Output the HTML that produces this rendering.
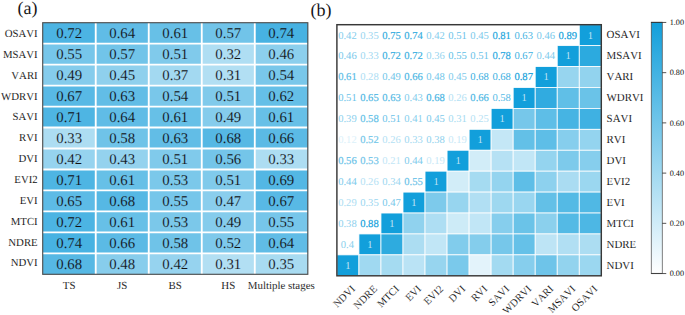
<!DOCTYPE html>
<html><head><meta charset="utf-8"><title>figure</title><style>html,body{margin:0;padding:0;background:#fff}svg{display:block;text-rendering:geometricPrecision}.l,.k{fill:#0a0a0a;stroke:#fff;stroke-width:.08px}.k{font-kerning:none}</style></head><body>
<svg width="685" height="315" viewBox="0 0 685 315" font-family="'Liberation Serif', serif">
<rect width="685" height="315" fill="#fff"/>
<rect x="42.70" y="22.70" width="53.32" height="21.27" fill="#4cb4e3"/>
<rect x="95.72" y="22.70" width="53.32" height="21.27" fill="#60bce6"/>
<rect x="148.74" y="22.70" width="53.32" height="21.27" fill="#67c0e7"/>
<rect x="201.76" y="22.70" width="53.32" height="21.27" fill="#71c4e9"/>
<rect x="254.78" y="22.70" width="53.32" height="21.27" fill="#47b2e2"/>
<rect x="42.70" y="43.67" width="53.32" height="21.27" fill="#76c6ea"/>
<rect x="95.72" y="43.67" width="53.32" height="21.27" fill="#71c4e9"/>
<rect x="148.74" y="43.67" width="53.32" height="21.27" fill="#80caeb"/>
<rect x="201.76" y="43.67" width="53.32" height="21.27" fill="#afdef3"/>
<rect x="254.78" y="43.67" width="53.32" height="21.27" fill="#8ccfed"/>
<rect x="42.70" y="64.63" width="53.32" height="21.27" fill="#85ccec"/>
<rect x="95.72" y="64.63" width="53.32" height="21.27" fill="#8fd0ed"/>
<rect x="148.74" y="64.63" width="53.32" height="21.27" fill="#a3d9f1"/>
<rect x="201.76" y="64.63" width="53.32" height="21.27" fill="#b2dff3"/>
<rect x="254.78" y="64.63" width="53.32" height="21.27" fill="#79c7ea"/>
<rect x="42.70" y="85.60" width="53.32" height="21.27" fill="#58b9e5"/>
<rect x="95.72" y="85.60" width="53.32" height="21.27" fill="#62bde6"/>
<rect x="148.74" y="85.60" width="53.32" height="21.27" fill="#79c7ea"/>
<rect x="201.76" y="85.60" width="53.32" height="21.27" fill="#80caeb"/>
<rect x="254.78" y="85.60" width="53.32" height="21.27" fill="#65bfe7"/>
<rect x="42.70" y="106.57" width="53.32" height="21.27" fill="#4eb5e3"/>
<rect x="95.72" y="106.57" width="53.32" height="21.27" fill="#60bce6"/>
<rect x="148.74" y="106.57" width="53.32" height="21.27" fill="#67c0e7"/>
<rect x="201.76" y="106.57" width="53.32" height="21.27" fill="#85ccec"/>
<rect x="254.78" y="106.57" width="53.32" height="21.27" fill="#67c0e7"/>
<rect x="42.70" y="127.53" width="53.32" height="21.27" fill="#adddf2"/>
<rect x="95.72" y="127.53" width="53.32" height="21.27" fill="#6fc3e8"/>
<rect x="148.74" y="127.53" width="53.32" height="21.27" fill="#62bde6"/>
<rect x="201.76" y="127.53" width="53.32" height="21.27" fill="#56b8e4"/>
<rect x="254.78" y="127.53" width="53.32" height="21.27" fill="#5bbae5"/>
<rect x="42.70" y="148.50" width="53.32" height="21.27" fill="#96d3ef"/>
<rect x="95.72" y="148.50" width="53.32" height="21.27" fill="#94d2ee"/>
<rect x="148.74" y="148.50" width="53.32" height="21.27" fill="#80caeb"/>
<rect x="201.76" y="148.50" width="53.32" height="21.27" fill="#74c5e9"/>
<rect x="254.78" y="148.50" width="53.32" height="21.27" fill="#adddf2"/>
<rect x="42.70" y="169.47" width="53.32" height="21.27" fill="#4eb5e3"/>
<rect x="95.72" y="169.47" width="53.32" height="21.27" fill="#67c0e7"/>
<rect x="148.74" y="169.47" width="53.32" height="21.27" fill="#7bc8ea"/>
<rect x="201.76" y="169.47" width="53.32" height="21.27" fill="#80caeb"/>
<rect x="254.78" y="169.47" width="53.32" height="21.27" fill="#53b7e4"/>
<rect x="42.70" y="190.43" width="53.32" height="21.27" fill="#5dbbe6"/>
<rect x="95.72" y="190.43" width="53.32" height="21.27" fill="#56b8e4"/>
<rect x="148.74" y="190.43" width="53.32" height="21.27" fill="#76c6ea"/>
<rect x="201.76" y="190.43" width="53.32" height="21.27" fill="#8aceed"/>
<rect x="254.78" y="190.43" width="53.32" height="21.27" fill="#58b9e5"/>
<rect x="42.70" y="211.40" width="53.32" height="21.27" fill="#4cb4e3"/>
<rect x="95.72" y="211.40" width="53.32" height="21.27" fill="#67c0e7"/>
<rect x="148.74" y="211.40" width="53.32" height="21.27" fill="#7bc8ea"/>
<rect x="201.76" y="211.40" width="53.32" height="21.27" fill="#85ccec"/>
<rect x="254.78" y="211.40" width="53.32" height="21.27" fill="#76c6ea"/>
<rect x="42.70" y="232.37" width="53.32" height="21.27" fill="#47b2e2"/>
<rect x="95.72" y="232.37" width="53.32" height="21.27" fill="#5bbae5"/>
<rect x="148.74" y="232.37" width="53.32" height="21.27" fill="#6fc3e8"/>
<rect x="201.76" y="232.37" width="53.32" height="21.27" fill="#7ec9eb"/>
<rect x="254.78" y="232.37" width="53.32" height="21.27" fill="#60bce6"/>
<rect x="42.70" y="253.33" width="53.32" height="21.27" fill="#56b8e4"/>
<rect x="95.72" y="253.33" width="53.32" height="21.27" fill="#87cdec"/>
<rect x="148.74" y="253.33" width="53.32" height="21.27" fill="#96d3ef"/>
<rect x="201.76" y="253.33" width="53.32" height="21.27" fill="#b2dff3"/>
<rect x="254.78" y="253.33" width="53.32" height="21.27" fill="#a8dbf1"/>
<line x1="95.72" y1="22.7" x2="95.72" y2="274.3" stroke="#fff" stroke-width="1.85"/>
<line x1="148.74" y1="22.7" x2="148.74" y2="274.3" stroke="#fff" stroke-width="1.85"/>
<line x1="201.76" y1="22.7" x2="201.76" y2="274.3" stroke="#fff" stroke-width="1.85"/>
<line x1="254.78" y1="22.7" x2="254.78" y2="274.3" stroke="#fff" stroke-width="1.85"/>
<line x1="42.7" y1="43.67" x2="307.8" y2="43.67" stroke="#fff" stroke-width="1.85"/>
<line x1="42.7" y1="64.63" x2="307.8" y2="64.63" stroke="#fff" stroke-width="1.85"/>
<line x1="42.7" y1="85.60" x2="307.8" y2="85.60" stroke="#fff" stroke-width="1.85"/>
<line x1="42.7" y1="106.57" x2="307.8" y2="106.57" stroke="#fff" stroke-width="1.85"/>
<line x1="42.7" y1="127.53" x2="307.8" y2="127.53" stroke="#fff" stroke-width="1.85"/>
<line x1="42.7" y1="148.50" x2="307.8" y2="148.50" stroke="#fff" stroke-width="1.85"/>
<line x1="42.7" y1="169.47" x2="307.8" y2="169.47" stroke="#fff" stroke-width="1.85"/>
<line x1="42.7" y1="190.43" x2="307.8" y2="190.43" stroke="#fff" stroke-width="1.85"/>
<line x1="42.7" y1="211.40" x2="307.8" y2="211.40" stroke="#fff" stroke-width="1.85"/>
<line x1="42.7" y1="232.37" x2="307.8" y2="232.37" stroke="#fff" stroke-width="1.85"/>
<line x1="42.7" y1="253.33" x2="307.8" y2="253.33" stroke="#fff" stroke-width="1.85"/>
<rect x="42.7" y="22.7" width="265.10" height="251.60" fill="none" stroke="#505050" stroke-width="1.15"/>
<text x="37.70" y="37.00" font-size="10.8" text-anchor="end" class="k">OSAVI</text>
<text x="69.21" y="38.08" font-size="14.8" text-anchor="middle" fill="#111" stroke="#4cb4e3" stroke-width="0.12">0.72</text>
<text x="122.23" y="38.08" font-size="14.8" text-anchor="middle" fill="#111" stroke="#60bce6" stroke-width="0.12">0.64</text>
<text x="175.25" y="38.08" font-size="14.8" text-anchor="middle" fill="#111" stroke="#67c0e7" stroke-width="0.12">0.61</text>
<text x="228.27" y="38.08" font-size="14.8" text-anchor="middle" fill="#111" stroke="#71c4e9" stroke-width="0.12">0.57</text>
<text x="281.29" y="38.08" font-size="14.8" text-anchor="middle" fill="#111" stroke="#47b2e2" stroke-width="0.12">0.74</text>
<text x="37.70" y="57.85" font-size="10.8" text-anchor="end" class="k">MSAVI</text>
<text x="69.21" y="59.05" font-size="14.8" text-anchor="middle" fill="#111" stroke="#76c6ea" stroke-width="0.12">0.55</text>
<text x="122.23" y="59.05" font-size="14.8" text-anchor="middle" fill="#111" stroke="#71c4e9" stroke-width="0.12">0.57</text>
<text x="175.25" y="59.05" font-size="14.8" text-anchor="middle" fill="#111" stroke="#80caeb" stroke-width="0.12">0.51</text>
<text x="228.27" y="59.05" font-size="14.8" text-anchor="middle" fill="#111" stroke="#afdef3" stroke-width="0.12">0.32</text>
<text x="281.29" y="59.05" font-size="14.8" text-anchor="middle" fill="#111" stroke="#8ccfed" stroke-width="0.12">0.46</text>
<text x="37.70" y="78.70" font-size="10.8" text-anchor="end" class="k">VARI</text>
<text x="69.21" y="80.02" font-size="14.8" text-anchor="middle" fill="#111" stroke="#85ccec" stroke-width="0.12">0.49</text>
<text x="122.23" y="80.02" font-size="14.8" text-anchor="middle" fill="#111" stroke="#8fd0ed" stroke-width="0.12">0.45</text>
<text x="175.25" y="80.02" font-size="14.8" text-anchor="middle" fill="#111" stroke="#a3d9f1" stroke-width="0.12">0.37</text>
<text x="228.27" y="80.02" font-size="14.8" text-anchor="middle" fill="#111" stroke="#b2dff3" stroke-width="0.12">0.31</text>
<text x="281.29" y="80.02" font-size="14.8" text-anchor="middle" fill="#111" stroke="#79c7ea" stroke-width="0.12">0.54</text>
<text x="37.70" y="99.55" font-size="10.8" text-anchor="end" class="k">WDRVI</text>
<text x="69.21" y="100.98" font-size="14.8" text-anchor="middle" fill="#111" stroke="#58b9e5" stroke-width="0.12">0.67</text>
<text x="122.23" y="100.98" font-size="14.8" text-anchor="middle" fill="#111" stroke="#62bde6" stroke-width="0.12">0.63</text>
<text x="175.25" y="100.98" font-size="14.8" text-anchor="middle" fill="#111" stroke="#79c7ea" stroke-width="0.12">0.54</text>
<text x="228.27" y="100.98" font-size="14.8" text-anchor="middle" fill="#111" stroke="#80caeb" stroke-width="0.12">0.51</text>
<text x="281.29" y="100.98" font-size="14.8" text-anchor="middle" fill="#111" stroke="#65bfe7" stroke-width="0.12">0.62</text>
<text x="37.70" y="120.40" font-size="10.8" text-anchor="end" class="k">SAVI</text>
<text x="69.21" y="121.95" font-size="14.8" text-anchor="middle" fill="#111" stroke="#4eb5e3" stroke-width="0.12">0.71</text>
<text x="122.23" y="121.95" font-size="14.8" text-anchor="middle" fill="#111" stroke="#60bce6" stroke-width="0.12">0.64</text>
<text x="175.25" y="121.95" font-size="14.8" text-anchor="middle" fill="#111" stroke="#67c0e7" stroke-width="0.12">0.61</text>
<text x="228.27" y="121.95" font-size="14.8" text-anchor="middle" fill="#111" stroke="#85ccec" stroke-width="0.12">0.49</text>
<text x="281.29" y="121.95" font-size="14.8" text-anchor="middle" fill="#111" stroke="#67c0e7" stroke-width="0.12">0.61</text>
<text x="37.70" y="141.25" font-size="10.8" text-anchor="end" class="k">RVI</text>
<text x="69.21" y="142.92" font-size="14.8" text-anchor="middle" fill="#111" stroke="#adddf2" stroke-width="0.12">0.33</text>
<text x="122.23" y="142.92" font-size="14.8" text-anchor="middle" fill="#111" stroke="#6fc3e8" stroke-width="0.12">0.58</text>
<text x="175.25" y="142.92" font-size="14.8" text-anchor="middle" fill="#111" stroke="#62bde6" stroke-width="0.12">0.63</text>
<text x="228.27" y="142.92" font-size="14.8" text-anchor="middle" fill="#111" stroke="#56b8e4" stroke-width="0.12">0.68</text>
<text x="281.29" y="142.92" font-size="14.8" text-anchor="middle" fill="#111" stroke="#5bbae5" stroke-width="0.12">0.66</text>
<text x="37.70" y="162.10" font-size="10.8" text-anchor="end" class="k">DVI</text>
<text x="69.21" y="163.88" font-size="14.8" text-anchor="middle" fill="#111" stroke="#96d3ef" stroke-width="0.12">0.42</text>
<text x="122.23" y="163.88" font-size="14.8" text-anchor="middle" fill="#111" stroke="#94d2ee" stroke-width="0.12">0.43</text>
<text x="175.25" y="163.88" font-size="14.8" text-anchor="middle" fill="#111" stroke="#80caeb" stroke-width="0.12">0.51</text>
<text x="228.27" y="163.88" font-size="14.8" text-anchor="middle" fill="#111" stroke="#74c5e9" stroke-width="0.12">0.56</text>
<text x="281.29" y="163.88" font-size="14.8" text-anchor="middle" fill="#111" stroke="#adddf2" stroke-width="0.12">0.33</text>
<text x="37.70" y="182.95" font-size="10.8" text-anchor="end" class="k">EVI2</text>
<text x="69.21" y="184.85" font-size="14.8" text-anchor="middle" fill="#111" stroke="#4eb5e3" stroke-width="0.12">0.71</text>
<text x="122.23" y="184.85" font-size="14.8" text-anchor="middle" fill="#111" stroke="#67c0e7" stroke-width="0.12">0.61</text>
<text x="175.25" y="184.85" font-size="14.8" text-anchor="middle" fill="#111" stroke="#7bc8ea" stroke-width="0.12">0.53</text>
<text x="228.27" y="184.85" font-size="14.8" text-anchor="middle" fill="#111" stroke="#80caeb" stroke-width="0.12">0.51</text>
<text x="281.29" y="184.85" font-size="14.8" text-anchor="middle" fill="#111" stroke="#53b7e4" stroke-width="0.12">0.69</text>
<text x="37.70" y="203.80" font-size="10.8" text-anchor="end" class="k">EVI</text>
<text x="69.21" y="205.82" font-size="14.8" text-anchor="middle" fill="#111" stroke="#5dbbe6" stroke-width="0.12">0.65</text>
<text x="122.23" y="205.82" font-size="14.8" text-anchor="middle" fill="#111" stroke="#56b8e4" stroke-width="0.12">0.68</text>
<text x="175.25" y="205.82" font-size="14.8" text-anchor="middle" fill="#111" stroke="#76c6ea" stroke-width="0.12">0.55</text>
<text x="228.27" y="205.82" font-size="14.8" text-anchor="middle" fill="#111" stroke="#8aceed" stroke-width="0.12">0.47</text>
<text x="281.29" y="205.82" font-size="14.8" text-anchor="middle" fill="#111" stroke="#58b9e5" stroke-width="0.12">0.67</text>
<text x="37.70" y="224.65" font-size="10.8" text-anchor="end" class="k">MTCI</text>
<text x="69.21" y="226.78" font-size="14.8" text-anchor="middle" fill="#111" stroke="#4cb4e3" stroke-width="0.12">0.72</text>
<text x="122.23" y="226.78" font-size="14.8" text-anchor="middle" fill="#111" stroke="#67c0e7" stroke-width="0.12">0.61</text>
<text x="175.25" y="226.78" font-size="14.8" text-anchor="middle" fill="#111" stroke="#7bc8ea" stroke-width="0.12">0.53</text>
<text x="228.27" y="226.78" font-size="14.8" text-anchor="middle" fill="#111" stroke="#85ccec" stroke-width="0.12">0.49</text>
<text x="281.29" y="226.78" font-size="14.8" text-anchor="middle" fill="#111" stroke="#76c6ea" stroke-width="0.12">0.55</text>
<text x="37.70" y="245.50" font-size="10.8" text-anchor="end" class="k">NDRE</text>
<text x="69.21" y="247.75" font-size="14.8" text-anchor="middle" fill="#111" stroke="#47b2e2" stroke-width="0.12">0.74</text>
<text x="122.23" y="247.75" font-size="14.8" text-anchor="middle" fill="#111" stroke="#5bbae5" stroke-width="0.12">0.66</text>
<text x="175.25" y="247.75" font-size="14.8" text-anchor="middle" fill="#111" stroke="#6fc3e8" stroke-width="0.12">0.58</text>
<text x="228.27" y="247.75" font-size="14.8" text-anchor="middle" fill="#111" stroke="#7ec9eb" stroke-width="0.12">0.52</text>
<text x="281.29" y="247.75" font-size="14.8" text-anchor="middle" fill="#111" stroke="#60bce6" stroke-width="0.12">0.64</text>
<text x="37.70" y="266.35" font-size="10.8" text-anchor="end" class="k">NDVI</text>
<text x="69.21" y="268.72" font-size="14.8" text-anchor="middle" fill="#111" stroke="#56b8e4" stroke-width="0.12">0.68</text>
<text x="122.23" y="268.72" font-size="14.8" text-anchor="middle" fill="#111" stroke="#87cdec" stroke-width="0.12">0.48</text>
<text x="175.25" y="268.72" font-size="14.8" text-anchor="middle" fill="#111" stroke="#96d3ef" stroke-width="0.12">0.42</text>
<text x="228.27" y="268.72" font-size="14.8" text-anchor="middle" fill="#111" stroke="#b2dff3" stroke-width="0.12">0.31</text>
<text x="281.29" y="268.72" font-size="14.8" text-anchor="middle" fill="#111" stroke="#a8dbf1" stroke-width="0.12">0.35</text>
<text x="69.21" y="289.4" font-size="10.9" text-anchor="middle" class="l">TS</text>
<text x="122.23" y="289.4" font-size="10.9" text-anchor="middle" class="l">JS</text>
<text x="175.25" y="289.4" font-size="10.9" text-anchor="middle" class="l">BS</text>
<text x="228.27" y="289.4" font-size="10.9" text-anchor="middle" class="l">HS</text>
<text x="281.29" y="289.4" font-size="10.9" text-anchor="middle" class="l">Multiple stages</text>
<text x="17.6" y="13.8" font-size="18" class="l">(a)</text>
<text x="310.5" y="15.7" font-size="18" class="l">(b)</text>
<text x="347.42" y="38.56" font-size="10.6" text-anchor="middle" fill="#86ceed">0.42</text>
<text x="369.45" y="38.56" font-size="10.6" text-anchor="middle" fill="#9ad6f0">0.35</text>
<text x="391.48" y="38.56" font-size="10.6" text-anchor="middle" fill="#33ace0" stroke="#33ace0" stroke-width="0.16">0.75</text>
<text x="413.52" y="38.56" font-size="10.6" text-anchor="middle" fill="#35ade0" stroke="#35ade0" stroke-width="0.16">0.74</text>
<text x="435.55" y="38.56" font-size="10.6" text-anchor="middle" fill="#86ceed">0.42</text>
<text x="457.58" y="38.56" font-size="10.6" text-anchor="middle" fill="#6cc3e9">0.51</text>
<text x="479.62" y="38.56" font-size="10.6" text-anchor="middle" fill="#7dcaeb">0.45</text>
<text x="501.65" y="38.56" font-size="10.6" text-anchor="middle" fill="#22a6dd" stroke="#22a6dd" stroke-width="0.16">0.81</text>
<text x="523.68" y="38.56" font-size="10.6" text-anchor="middle" fill="#49b5e3">0.63</text>
<text x="545.72" y="38.56" font-size="10.6" text-anchor="middle" fill="#7ac9eb">0.46</text>
<text x="567.75" y="38.56" font-size="10.6" text-anchor="middle" fill="#129fdb" stroke="#129fdb" stroke-width="0.16">0.89</text>
<rect x="579.27" y="24.70" width="22.03" height="20.93" fill="#129fdb" stroke="#fff" stroke-width="0.8"/>
<text x="590.28" y="38.56" font-size="10.6" text-anchor="middle" fill="#fff" fill-opacity="0.72">1</text>
<text x="347.42" y="59.49" font-size="10.6" text-anchor="middle" fill="#7ac9eb">0.46</text>
<text x="369.45" y="59.49" font-size="10.6" text-anchor="middle" fill="#a0d8f1">0.33</text>
<text x="391.48" y="59.49" font-size="10.6" text-anchor="middle" fill="#3bb0e1" stroke="#3bb0e1" stroke-width="0.16">0.72</text>
<text x="413.52" y="59.49" font-size="10.6" text-anchor="middle" fill="#3bb0e1" stroke="#3bb0e1" stroke-width="0.16">0.72</text>
<text x="435.55" y="59.49" font-size="10.6" text-anchor="middle" fill="#97d5ef">0.36</text>
<text x="457.58" y="59.49" font-size="10.6" text-anchor="middle" fill="#60bfe7">0.55</text>
<text x="479.62" y="59.49" font-size="10.6" text-anchor="middle" fill="#6cc3e9">0.51</text>
<text x="501.65" y="59.49" font-size="10.6" text-anchor="middle" fill="#2aa9df" stroke="#2aa9df" stroke-width="0.16">0.78</text>
<text x="523.68" y="59.49" font-size="10.6" text-anchor="middle" fill="#3db1e2">0.67</text>
<text x="545.72" y="59.49" font-size="10.6" text-anchor="middle" fill="#80cbec">0.44</text>
<rect x="557.23" y="45.62" width="22.03" height="20.93" fill="#129fdb" stroke="#fff" stroke-width="0.8"/>
<text x="568.25" y="59.49" font-size="10.6" text-anchor="middle" fill="#fff" fill-opacity="0.72">1</text>
<rect x="579.27" y="45.62" width="22.03" height="20.93" fill="#2caadf" stroke="#fff" stroke-width="0.8"/>
<text x="347.42" y="80.41" font-size="10.6" text-anchor="middle" fill="#59bce6" stroke="#59bce6" stroke-width="0.16">0.61</text>
<text x="369.45" y="80.41" font-size="10.6" text-anchor="middle" fill="#aedef3">0.28</text>
<text x="391.48" y="80.41" font-size="10.6" text-anchor="middle" fill="#71c6e9">0.49</text>
<text x="413.52" y="80.41" font-size="10.6" text-anchor="middle" fill="#4bb6e4" stroke="#4bb6e4" stroke-width="0.16">0.66</text>
<text x="435.55" y="80.41" font-size="10.6" text-anchor="middle" fill="#74c7ea">0.48</text>
<text x="457.58" y="80.41" font-size="10.6" text-anchor="middle" fill="#7dcaeb">0.45</text>
<text x="479.62" y="80.41" font-size="10.6" text-anchor="middle" fill="#3aafe1">0.68</text>
<text x="501.65" y="80.41" font-size="10.6" text-anchor="middle" fill="#3aafe1">0.68</text>
<text x="523.68" y="80.41" font-size="10.6" text-anchor="middle" fill="#129fdb" stroke="#129fdb" stroke-width="0.16">0.87</text>
<rect x="535.20" y="66.55" width="22.03" height="20.93" fill="#129fdb" stroke="#fff" stroke-width="0.8"/>
<text x="546.22" y="80.41" font-size="10.6" text-anchor="middle" fill="#fff" fill-opacity="0.72">1</text>
<rect x="557.23" y="66.55" width="22.03" height="20.93" fill="#97d5ef" stroke="#fff" stroke-width="0.8"/>
<rect x="579.27" y="66.55" width="22.03" height="20.93" fill="#92d3ee" stroke="#fff" stroke-width="0.8"/>
<text x="347.42" y="101.34" font-size="10.6" text-anchor="middle" fill="#6cc3e9">0.51</text>
<text x="369.45" y="101.34" font-size="10.6" text-anchor="middle" fill="#4eb7e4" stroke="#4eb7e4" stroke-width="0.16">0.65</text>
<text x="391.48" y="101.34" font-size="10.6" text-anchor="middle" fill="#53b9e5" stroke="#53b9e5" stroke-width="0.16">0.63</text>
<text x="413.52" y="101.34" font-size="10.6" text-anchor="middle" fill="#83cdec">0.43</text>
<text x="435.55" y="101.34" font-size="10.6" text-anchor="middle" fill="#46b4e3" stroke="#46b4e3" stroke-width="0.16">0.68</text>
<text x="457.58" y="101.34" font-size="10.6" text-anchor="middle" fill="#b4e1f4">0.26</text>
<text x="479.62" y="101.34" font-size="10.6" text-anchor="middle" fill="#4bb6e4" stroke="#4bb6e4" stroke-width="0.16">0.66</text>
<text x="501.65" y="101.34" font-size="10.6" text-anchor="middle" fill="#57bbe6">0.58</text>
<rect x="513.17" y="87.48" width="22.03" height="20.93" fill="#129fdb" stroke="#fff" stroke-width="0.8"/>
<text x="524.18" y="101.34" font-size="10.6" text-anchor="middle" fill="#fff" fill-opacity="0.72">1</text>
<rect x="535.20" y="87.48" width="22.03" height="20.93" fill="#31abe0" stroke="#fff" stroke-width="0.8"/>
<rect x="557.23" y="87.48" width="22.03" height="20.93" fill="#60bfe7" stroke="#fff" stroke-width="0.8"/>
<rect x="579.27" y="87.48" width="22.03" height="20.93" fill="#6ac3e8" stroke="#fff" stroke-width="0.8"/>
<text x="347.42" y="122.26" font-size="10.6" text-anchor="middle" fill="#8ed1ee">0.39</text>
<text x="369.45" y="122.26" font-size="10.6" text-anchor="middle" fill="#61bfe7" stroke="#61bfe7" stroke-width="0.16">0.58</text>
<text x="391.48" y="122.26" font-size="10.6" text-anchor="middle" fill="#6cc3e9">0.51</text>
<text x="413.52" y="122.26" font-size="10.6" text-anchor="middle" fill="#88cfed">0.41</text>
<text x="435.55" y="122.26" font-size="10.6" text-anchor="middle" fill="#7dcaeb">0.45</text>
<text x="457.58" y="122.26" font-size="10.6" text-anchor="middle" fill="#a5dbf1">0.31</text>
<text x="479.62" y="122.26" font-size="10.6" text-anchor="middle" fill="#b7e2f4">0.25</text>
<rect x="491.13" y="108.40" width="22.03" height="20.93" fill="#129fdb" stroke="#fff" stroke-width="0.8"/>
<text x="502.15" y="122.26" font-size="10.6" text-anchor="middle" fill="#fff" fill-opacity="0.72">1</text>
<rect x="513.17" y="108.40" width="22.03" height="20.93" fill="#76c7ea" stroke="#fff" stroke-width="0.8"/>
<rect x="535.20" y="108.40" width="22.03" height="20.93" fill="#5ebee7" stroke="#fff" stroke-width="0.8"/>
<rect x="557.23" y="108.40" width="22.03" height="20.93" fill="#46b4e3" stroke="#fff" stroke-width="0.8"/>
<rect x="579.27" y="108.40" width="22.03" height="20.93" fill="#3fb1e2" stroke="#fff" stroke-width="0.8"/>
<text x="347.42" y="143.19" font-size="10.6" text-anchor="middle" fill="#dcf1fa">0.12</text>
<text x="369.45" y="143.19" font-size="10.6" text-anchor="middle" fill="#71c6e9" stroke="#71c6e9" stroke-width="0.16">0.52</text>
<text x="391.48" y="143.19" font-size="10.6" text-anchor="middle" fill="#b4e1f4">0.26</text>
<text x="413.52" y="143.19" font-size="10.6" text-anchor="middle" fill="#a0d8f1">0.33</text>
<text x="435.55" y="143.19" font-size="10.6" text-anchor="middle" fill="#91d2ee">0.38</text>
<text x="457.58" y="143.19" font-size="10.6" text-anchor="middle" fill="#c8e9f7">0.19</text>
<rect x="469.10" y="129.32" width="22.03" height="20.93" fill="#129fdb" stroke="#fff" stroke-width="0.8"/>
<text x="480.12" y="143.19" font-size="10.6" text-anchor="middle" fill="#fff" fill-opacity="0.72">1</text>
<rect x="491.13" y="129.32" width="22.03" height="20.93" fill="#c4e7f6" stroke="#fff" stroke-width="0.8"/>
<rect x="513.17" y="129.32" width="22.03" height="20.93" fill="#63c0e7" stroke="#fff" stroke-width="0.8"/>
<rect x="535.20" y="129.32" width="22.03" height="20.93" fill="#5ebee7" stroke="#fff" stroke-width="0.8"/>
<rect x="557.23" y="129.32" width="22.03" height="20.93" fill="#86ceed" stroke="#fff" stroke-width="0.8"/>
<rect x="579.27" y="129.32" width="22.03" height="20.93" fill="#94d4ef" stroke="#fff" stroke-width="0.8"/>
<text x="347.42" y="164.11" font-size="10.6" text-anchor="middle" fill="#66c1e8" stroke="#66c1e8" stroke-width="0.16">0.56</text>
<text x="369.45" y="164.11" font-size="10.6" text-anchor="middle" fill="#6fc4e9" stroke="#6fc4e9" stroke-width="0.16">0.53</text>
<text x="391.48" y="164.11" font-size="10.6" text-anchor="middle" fill="#c2e6f6">0.21</text>
<text x="413.52" y="164.11" font-size="10.6" text-anchor="middle" fill="#80cbec">0.44</text>
<text x="435.55" y="164.11" font-size="10.6" text-anchor="middle" fill="#c8e9f7">0.19</text>
<rect x="447.07" y="150.25" width="22.03" height="20.93" fill="#129fdb" stroke="#fff" stroke-width="0.8"/>
<text x="458.08" y="164.11" font-size="10.6" text-anchor="middle" fill="#fff" fill-opacity="0.72">1</text>
<rect x="469.10" y="150.25" width="22.03" height="20.93" fill="#d2edf8" stroke="#fff" stroke-width="0.8"/>
<rect x="491.13" y="150.25" width="22.03" height="20.93" fill="#b6e1f4" stroke="#fff" stroke-width="0.8"/>
<rect x="513.17" y="150.25" width="22.03" height="20.93" fill="#c1e6f6" stroke="#fff" stroke-width="0.8"/>
<rect x="535.20" y="150.25" width="22.03" height="20.93" fill="#94d4ef" stroke="#fff" stroke-width="0.8"/>
<rect x="557.23" y="150.25" width="22.03" height="20.93" fill="#7dcaeb" stroke="#fff" stroke-width="0.8"/>
<rect x="579.27" y="150.25" width="22.03" height="20.93" fill="#86ceed" stroke="#fff" stroke-width="0.8"/>
<text x="347.42" y="185.04" font-size="10.6" text-anchor="middle" fill="#80cbec">0.44</text>
<text x="369.45" y="185.04" font-size="10.6" text-anchor="middle" fill="#b4e1f4">0.26</text>
<text x="391.48" y="185.04" font-size="10.6" text-anchor="middle" fill="#9dd7f0">0.34</text>
<text x="413.52" y="185.04" font-size="10.6" text-anchor="middle" fill="#69c2e8" stroke="#69c2e8" stroke-width="0.16">0.55</text>
<rect x="425.03" y="171.17" width="22.03" height="20.93" fill="#129fdb" stroke="#fff" stroke-width="0.8"/>
<text x="436.05" y="185.04" font-size="10.6" text-anchor="middle" fill="#fff" fill-opacity="0.72">1</text>
<rect x="447.07" y="171.17" width="22.03" height="20.93" fill="#d2edf8" stroke="#fff" stroke-width="0.8"/>
<rect x="469.10" y="171.17" width="22.03" height="20.93" fill="#a5dbf1" stroke="#fff" stroke-width="0.8"/>
<rect x="491.13" y="171.17" width="22.03" height="20.93" fill="#94d4ef" stroke="#fff" stroke-width="0.8"/>
<rect x="513.17" y="171.17" width="22.03" height="20.93" fill="#5ebee7" stroke="#fff" stroke-width="0.8"/>
<rect x="535.20" y="171.17" width="22.03" height="20.93" fill="#8dd1ee" stroke="#fff" stroke-width="0.8"/>
<rect x="557.23" y="171.17" width="22.03" height="20.93" fill="#aadcf2" stroke="#fff" stroke-width="0.8"/>
<rect x="579.27" y="171.17" width="22.03" height="20.93" fill="#9bd7f0" stroke="#fff" stroke-width="0.8"/>
<text x="347.42" y="205.96" font-size="10.6" text-anchor="middle" fill="#abddf2">0.29</text>
<text x="369.45" y="205.96" font-size="10.6" text-anchor="middle" fill="#9ad6f0">0.35</text>
<text x="391.48" y="205.96" font-size="10.6" text-anchor="middle" fill="#77c8ea">0.47</text>
<rect x="403.00" y="192.10" width="22.03" height="20.93" fill="#129fdb" stroke="#fff" stroke-width="0.8"/>
<text x="414.02" y="205.96" font-size="10.6" text-anchor="middle" fill="#fff" fill-opacity="0.72">1</text>
<rect x="425.03" y="192.10" width="22.03" height="20.93" fill="#7dcaeb" stroke="#fff" stroke-width="0.8"/>
<rect x="447.07" y="192.10" width="22.03" height="20.93" fill="#97d5ef" stroke="#fff" stroke-width="0.8"/>
<rect x="469.10" y="192.10" width="22.03" height="20.93" fill="#b1dff3" stroke="#fff" stroke-width="0.8"/>
<rect x="491.13" y="192.10" width="22.03" height="20.93" fill="#9ed8f0" stroke="#fff" stroke-width="0.8"/>
<rect x="513.17" y="192.10" width="22.03" height="20.93" fill="#99d6f0" stroke="#fff" stroke-width="0.8"/>
<rect x="535.20" y="192.10" width="22.03" height="20.93" fill="#63c0e7" stroke="#fff" stroke-width="0.8"/>
<rect x="557.23" y="192.10" width="22.03" height="20.93" fill="#54bae5" stroke="#fff" stroke-width="0.8"/>
<rect x="579.27" y="192.10" width="22.03" height="20.93" fill="#50b8e4" stroke="#fff" stroke-width="0.8"/>
<text x="347.42" y="226.89" font-size="10.6" text-anchor="middle" fill="#91d2ee">0.38</text>
<text x="369.45" y="226.89" font-size="10.6" text-anchor="middle" fill="#129fdb" stroke="#129fdb" stroke-width="0.16">0.88</text>
<rect x="380.97" y="213.03" width="22.03" height="20.93" fill="#129fdb" stroke="#fff" stroke-width="0.8"/>
<text x="391.98" y="226.89" font-size="10.6" text-anchor="middle" fill="#fff" fill-opacity="0.72">1</text>
<rect x="403.00" y="213.03" width="22.03" height="20.93" fill="#90d2ee" stroke="#fff" stroke-width="0.8"/>
<rect x="425.03" y="213.03" width="22.03" height="20.93" fill="#aedef3" stroke="#fff" stroke-width="0.8"/>
<rect x="447.07" y="213.03" width="22.03" height="20.93" fill="#cdebf7" stroke="#fff" stroke-width="0.8"/>
<rect x="469.10" y="213.03" width="22.03" height="20.93" fill="#c1e6f6" stroke="#fff" stroke-width="0.8"/>
<rect x="491.13" y="213.03" width="22.03" height="20.93" fill="#86ceed" stroke="#fff" stroke-width="0.8"/>
<rect x="513.17" y="213.03" width="22.03" height="20.93" fill="#6ac3e8" stroke="#fff" stroke-width="0.8"/>
<rect x="535.20" y="213.03" width="22.03" height="20.93" fill="#8bd0ed" stroke="#fff" stroke-width="0.8"/>
<rect x="557.23" y="213.03" width="22.03" height="20.93" fill="#54bae5" stroke="#fff" stroke-width="0.8"/>
<rect x="579.27" y="213.03" width="22.03" height="20.93" fill="#4db7e4" stroke="#fff" stroke-width="0.8"/>
<text x="347.42" y="247.81" font-size="10.6" text-anchor="middle" fill="#8bd0ed">0.4</text>
<rect x="358.93" y="233.95" width="22.03" height="20.93" fill="#129fdb" stroke="#fff" stroke-width="0.8"/>
<text x="369.95" y="247.81" font-size="10.6" text-anchor="middle" fill="#fff" fill-opacity="0.72">1</text>
<rect x="380.97" y="233.95" width="22.03" height="20.93" fill="#2eabdf" stroke="#fff" stroke-width="0.8"/>
<rect x="403.00" y="233.95" width="22.03" height="20.93" fill="#acddf2" stroke="#fff" stroke-width="0.8"/>
<rect x="425.03" y="233.95" width="22.03" height="20.93" fill="#c1e6f6" stroke="#fff" stroke-width="0.8"/>
<rect x="447.07" y="233.95" width="22.03" height="20.93" fill="#81ccec" stroke="#fff" stroke-width="0.8"/>
<rect x="469.10" y="233.95" width="22.03" height="20.93" fill="#84cdec" stroke="#fff" stroke-width="0.8"/>
<rect x="491.13" y="233.95" width="22.03" height="20.93" fill="#76c7ea" stroke="#fff" stroke-width="0.8"/>
<rect x="513.17" y="233.95" width="22.03" height="20.93" fill="#65c1e8" stroke="#fff" stroke-width="0.8"/>
<rect x="535.20" y="233.95" width="22.03" height="20.93" fill="#bde4f5" stroke="#fff" stroke-width="0.8"/>
<rect x="557.23" y="233.95" width="22.03" height="20.93" fill="#b1dff3" stroke="#fff" stroke-width="0.8"/>
<rect x="579.27" y="233.95" width="22.03" height="20.93" fill="#acddf2" stroke="#fff" stroke-width="0.8"/>
<rect x="336.90" y="254.88" width="22.03" height="20.93" fill="#129fdb" stroke="#fff" stroke-width="0.8"/>
<text x="347.92" y="268.74" font-size="10.6" text-anchor="middle" fill="#fff" fill-opacity="0.72">1</text>
<rect x="358.93" y="254.88" width="22.03" height="20.93" fill="#a0d9f1" stroke="#fff" stroke-width="0.8"/>
<rect x="380.97" y="254.88" width="22.03" height="20.93" fill="#a5dbf1" stroke="#fff" stroke-width="0.8"/>
<rect x="403.00" y="254.88" width="22.03" height="20.93" fill="#bae3f5" stroke="#fff" stroke-width="0.8"/>
<rect x="425.03" y="254.88" width="22.03" height="20.93" fill="#97d5ef" stroke="#fff" stroke-width="0.8"/>
<rect x="447.07" y="254.88" width="22.03" height="20.93" fill="#7ac9eb" stroke="#fff" stroke-width="0.8"/>
<rect x="469.10" y="254.88" width="22.03" height="20.93" fill="#e3f3fb" stroke="#fff" stroke-width="0.8"/>
<rect x="491.13" y="254.88" width="22.03" height="20.93" fill="#a3daf1" stroke="#fff" stroke-width="0.8"/>
<rect x="513.17" y="254.88" width="22.03" height="20.93" fill="#86ceed" stroke="#fff" stroke-width="0.8"/>
<rect x="535.20" y="254.88" width="22.03" height="20.93" fill="#6ec4e9" stroke="#fff" stroke-width="0.8"/>
<rect x="557.23" y="254.88" width="22.03" height="20.93" fill="#92d3ee" stroke="#fff" stroke-width="0.8"/>
<rect x="579.27" y="254.88" width="22.03" height="20.93" fill="#9bd7f0" stroke="#fff" stroke-width="0.8"/>
<rect x="336.9" y="24.7" width="264.40" height="251.10" fill="none" stroke="#383838" stroke-width="1.45"/>
<text x="606.60" y="38.35" font-size="10.9" class="k">OSAVI</text>
<text x="606.60" y="59.29" font-size="10.9" class="k">MSAVI</text>
<text x="606.60" y="80.23" font-size="10.9" class="k">VARI</text>
<text x="606.60" y="101.17" font-size="10.9" class="k">WDRVI</text>
<text x="606.60" y="122.11" font-size="10.9" class="k">SAVI</text>
<text x="606.60" y="143.05" font-size="10.9" class="k">RVI</text>
<text x="606.60" y="163.99" font-size="10.9" class="k">DVI</text>
<text x="606.60" y="184.93" font-size="10.9" class="k">EVI2</text>
<text x="606.60" y="205.87" font-size="10.9" class="k">EVI</text>
<text x="606.60" y="226.81" font-size="10.9" class="k">MTCI</text>
<text x="606.60" y="247.75" font-size="10.9" class="k">NDRE</text>
<text x="606.60" y="268.69" font-size="10.9" class="k">NDVI</text>
<text transform="translate(355.72,289.50) rotate(-45)" font-size="10.5" text-anchor="end" class="k">NDVI</text>
<text transform="translate(377.75,289.50) rotate(-45)" font-size="10.5" text-anchor="end" class="k">NDRE</text>
<text transform="translate(399.78,289.50) rotate(-45)" font-size="10.5" text-anchor="end" class="k">MTCI</text>
<text transform="translate(421.82,289.50) rotate(-45)" font-size="10.5" text-anchor="end" class="k">EVI</text>
<text transform="translate(443.85,289.50) rotate(-45)" font-size="10.5" text-anchor="end" class="k">EVI2</text>
<text transform="translate(465.88,289.50) rotate(-45)" font-size="10.5" text-anchor="end" class="k">DVI</text>
<text transform="translate(487.92,289.50) rotate(-45)" font-size="10.5" text-anchor="end" class="k">RVI</text>
<text transform="translate(509.95,289.50) rotate(-45)" font-size="10.5" text-anchor="end" class="k">SAVI</text>
<text transform="translate(531.98,289.50) rotate(-45)" font-size="10.5" text-anchor="end" class="k">WDRVI</text>
<text transform="translate(554.02,289.50) rotate(-45)" font-size="10.5" text-anchor="end" class="k">VARI</text>
<text transform="translate(576.05,289.50) rotate(-45)" font-size="10.5" text-anchor="end" class="k">MSAVI</text>
<text transform="translate(598.08,289.50) rotate(-45)" font-size="10.5" text-anchor="end" class="k">OSAVI</text>
<defs><linearGradient id="cb" x1="0" y1="0" x2="0" y2="1"><stop offset="0" stop-color="#129fdb"/><stop offset="1" stop-color="#ffffff"/></linearGradient></defs>
<rect x="651.25" y="22.2" width="11.00" height="251.10" fill="url(#cb)" stroke="#484848" stroke-width="0.7"/>
<line x1="650.95" y1="22.45" x2="666.25" y2="22.45" stroke="#2a2a2a" stroke-width="0.8"/>
<text x="669.65" y="25.15" font-size="8.2" fill="#111">1.00</text>
<line x1="662.25" y1="72.67" x2="666.25" y2="72.67" stroke="#2a2a2a" stroke-width="0.8"/>
<text x="669.65" y="75.37" font-size="8.2" fill="#111">0.80</text>
<line x1="662.25" y1="122.89" x2="666.25" y2="122.89" stroke="#2a2a2a" stroke-width="0.8"/>
<text x="669.65" y="125.59" font-size="8.2" fill="#111">0.60</text>
<line x1="662.25" y1="173.11" x2="666.25" y2="173.11" stroke="#2a2a2a" stroke-width="0.8"/>
<text x="669.65" y="175.81" font-size="8.2" fill="#111">0.40</text>
<line x1="662.25" y1="223.33" x2="666.25" y2="223.33" stroke="#2a2a2a" stroke-width="0.8"/>
<text x="669.65" y="226.03" font-size="8.2" fill="#111">0.20</text>
<line x1="650.95" y1="273.55" x2="666.25" y2="273.55" stroke="#2a2a2a" stroke-width="0.8"/>
<text x="669.65" y="276.25" font-size="8.2" fill="#111">0.00</text>
</svg>
</body></html>
